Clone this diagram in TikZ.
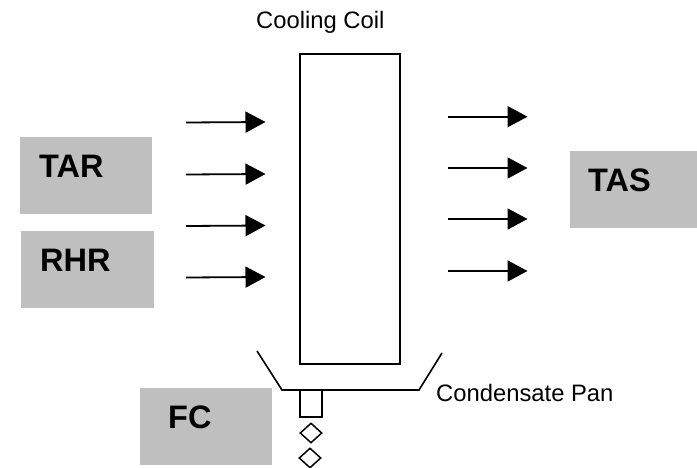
\documentclass[tikz,border=0pt]{standalone}
\usepackage{fontspec}
\setmainfont{Liberation Sans}
\usetikzlibrary{arrows.meta,shapes.geometric}
\tikzset{
  graybox/.style={fill=boxgray,draw=none,inner sep=0pt},
  boxlabel/.style={inner sep=0pt,anchor=base west,font=\fontsize{32.5}{36}\selectfont\bfseries},
  plainlabel/.style={inner sep=0pt,anchor=base west,font=\fontsize{23.8}{28}\selectfont},
  flow/.style={line width=1.8pt,-{Triangle[length=20pt,width=21pt]}},
  outline/.style={line width=1.6pt,draw=black},
  drop/.style={diamond,aspect=1.1,draw=black,line width=1.5pt,inner sep=0pt,minimum width=22pt,minimum height=20pt},
}
\definecolor{boxgray}{gray}{0.75}
\begin{document}
\begin{tikzpicture}[x=1pt,y=-1pt]
\useasboundingbox (0,0) rectangle (697,468);
\fill[white] (0,0) rectangle (697,468);
% gray boxes
\node[graybox,minimum width=132pt,minimum height=77pt] (tarbox) at (86,175.5) {};
\node[graybox,minimum width=133pt,minimum height=77pt] (rhrbox) at (87.5,269.5) {};
\node[graybox,minimum width=127pt,minimum height=77pt] (tasbox) at (633.5,189.5) {};
\node[graybox,minimum width=132pt,minimum height=77pt] (fcbox) at (206,426.5) {};
\node[boxlabel] (tar) at (39,177.7) {TAR};
\node[boxlabel] (rhr) at (40,271.7) {RHR};
\node[boxlabel] (tas) at (588,191.7) {TAS};
\node[boxlabel] (fc) at (168,428) {FC};
% coil
\node[outline,draw,minimum width=100pt,minimum height=310pt,inner sep=0pt] (coil) at (350,209) {};
\node[plainlabel] (coillabel) at (256,29) {Cooling Coil};
% pan
\coordinate (panA) at (257,351);
\coordinate (panB) at (282,390);
\coordinate (panC) at (419,390);
\coordinate (panD) at (442,353);
\draw[outline,line join=miter] (panA) -- (panB) -- (panC) -- (panD);
\node[plainlabel] (panlabel) at (436,401) {Condensate Pan};
% drain
\node[outline,draw,minimum width=22.5pt,minimum height=26.5pt,inner sep=0pt] (drain) at (311,403.5) {};
\node[drop] (d1) at (311,433) {};
\node[drop] (d2) at (310,458) {};
% left arrows
\foreach \n/\y in {1/122,2/174,3/225.5,4/277}{
  \coordinate (ls\n) at (186,\y+0.5);
  \coordinate (le\n) at (265.5,\y);
  \draw[flow] (ls\n) -- (le\n);
}
% right arrows
\foreach \n/\y in {1/116.7,2/168,3/219,4/271}{
  \coordinate (rs\n) at (448,\y);
  \coordinate (re\n) at (527.5,\y);
  \draw[flow] (rs\n) -- (re\n);
}
\end{tikzpicture}
\end{document}
